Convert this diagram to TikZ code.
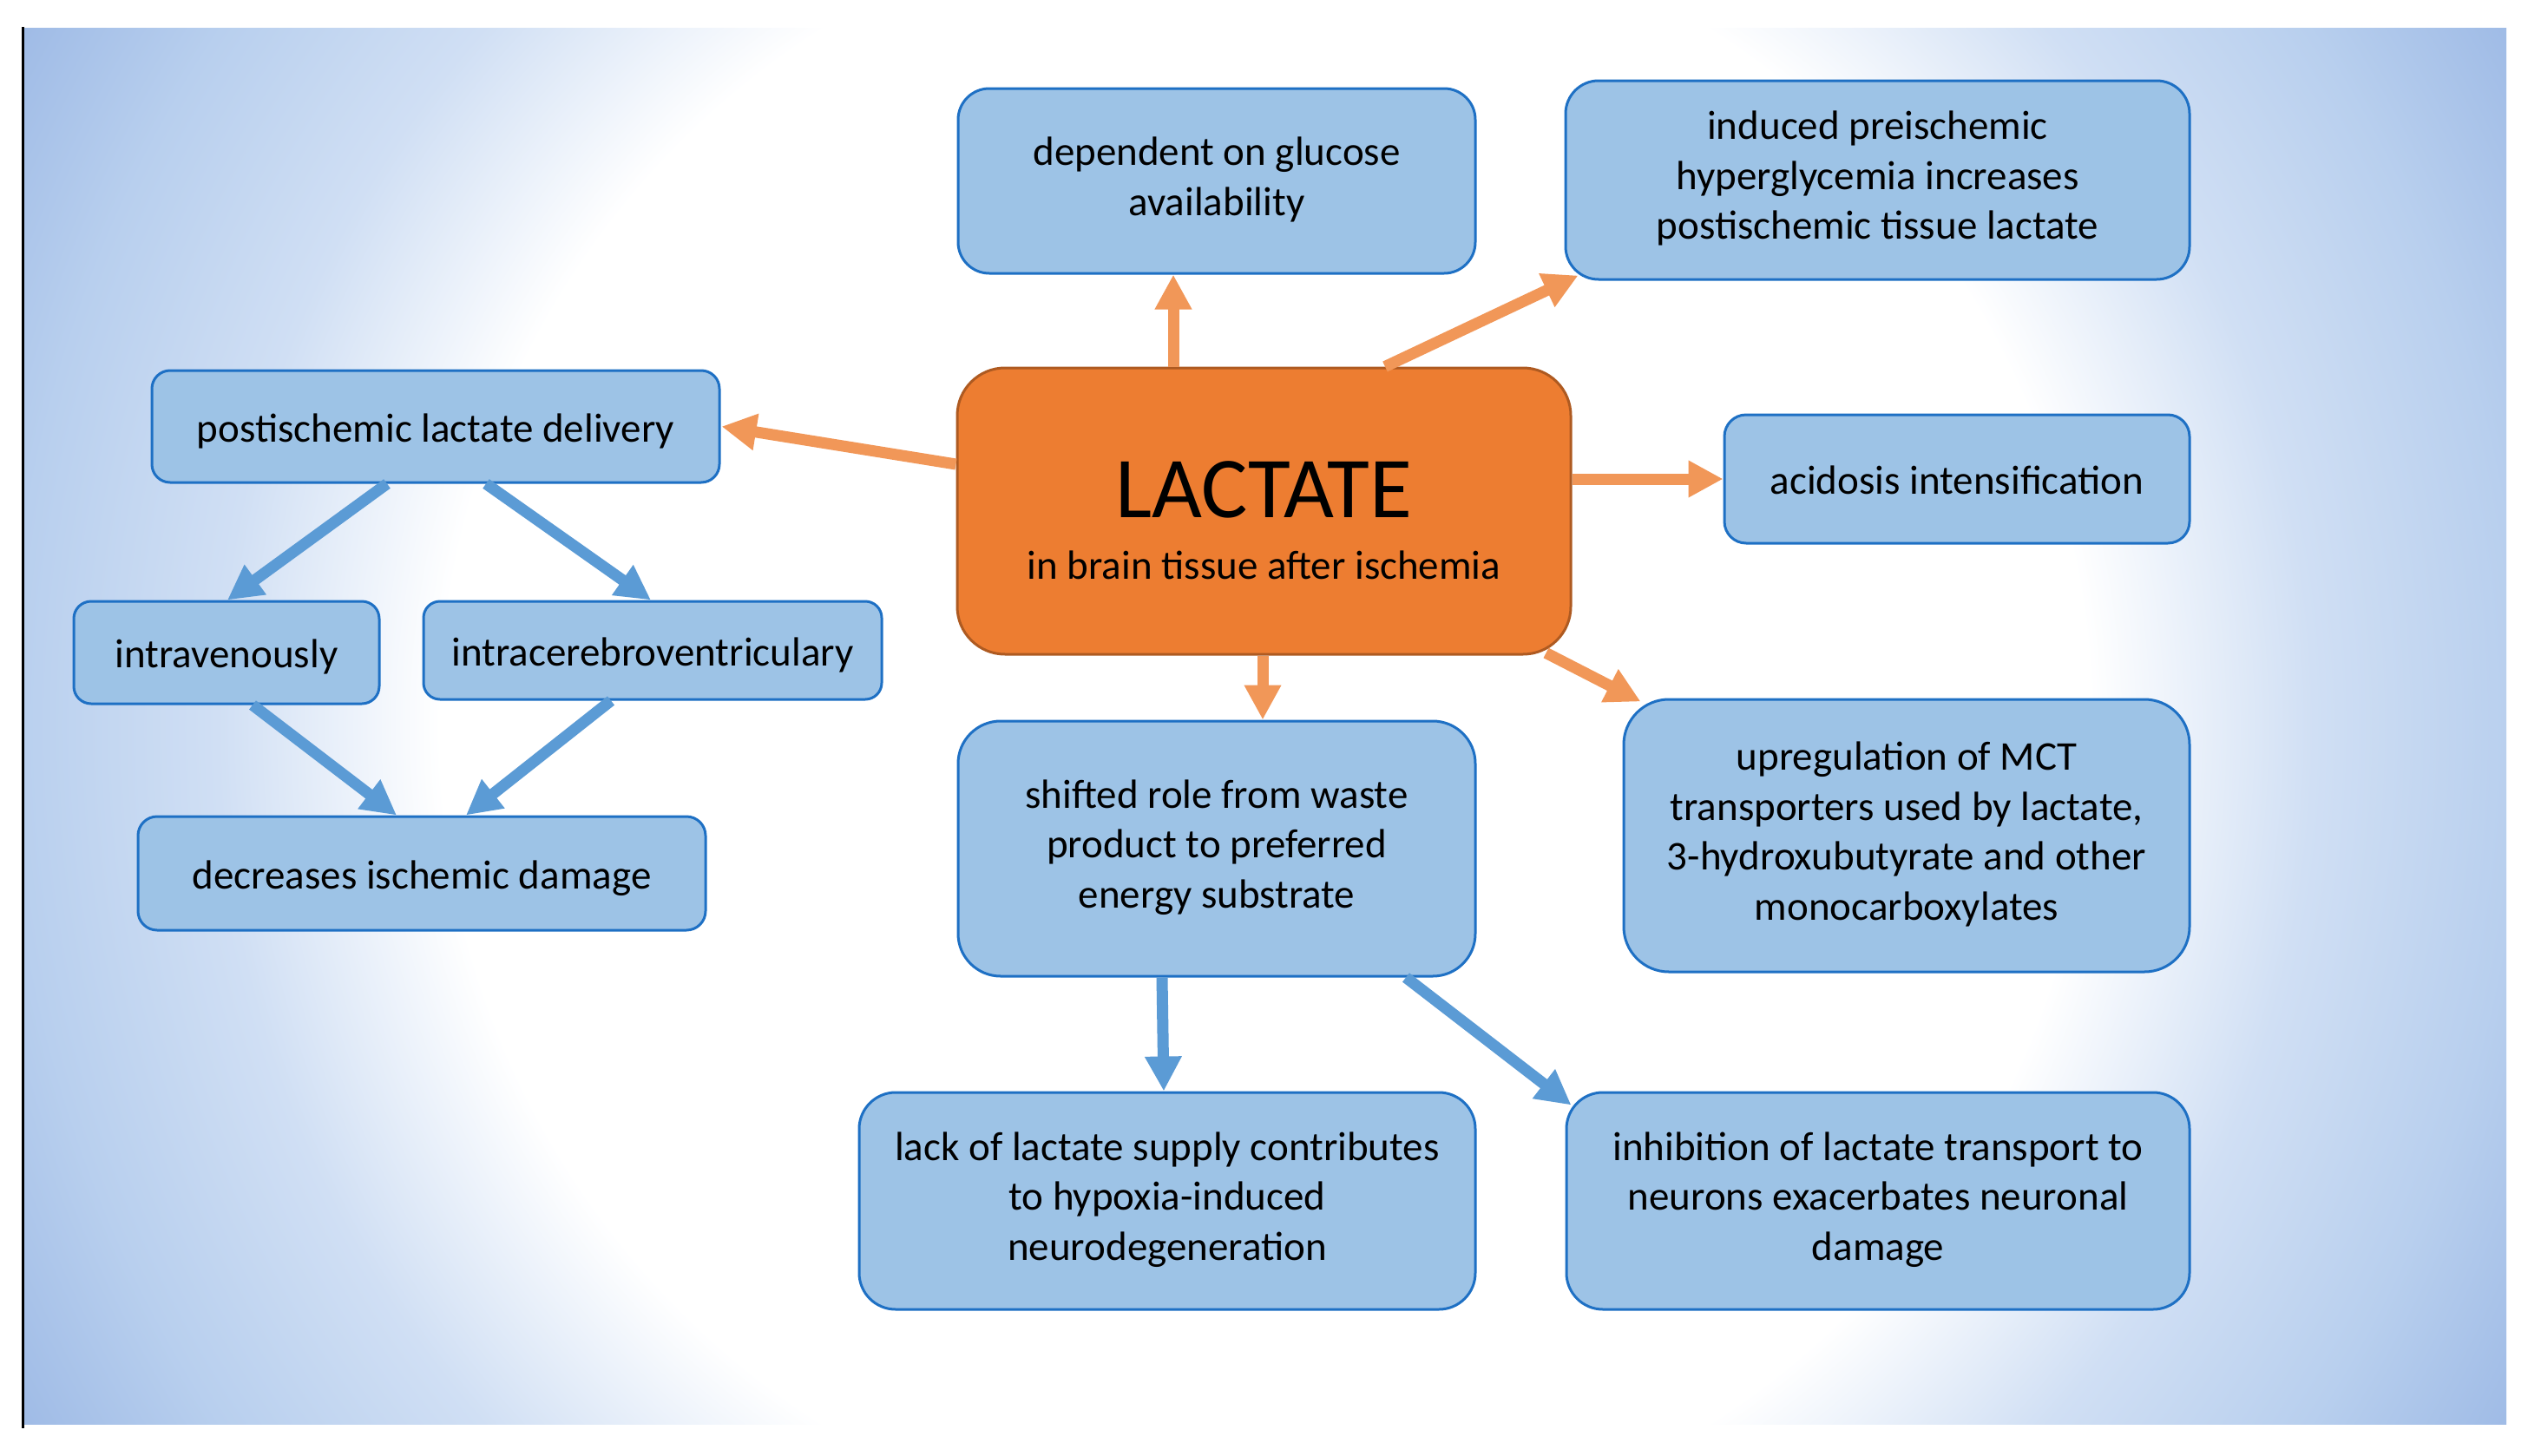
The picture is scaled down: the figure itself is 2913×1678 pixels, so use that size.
\documentclass[tikz,border=0pt]{standalone}
\usepackage{fontspec}
\setmainfont{Carlito}
\usetikzlibrary{arrows.meta}
\definecolor{boxfill}{HTML}{9DC3E6}
\definecolor{boxline}{RGB}{30,112,196}
\definecolor{lacfill}{HTML}{ED7D31}
\definecolor{lacline}{HTML}{AE5A21}
\definecolor{arrorange}{HTML}{F19758}
\definecolor{arrblue}{HTML}{5B9BD5}
\definecolor{bgA}{HTML}{D0DFF4}
\definecolor{bgB}{HTML}{B8CFEE}
\definecolor{bgC}{HTML}{9FBBE6}
\pgfdeclareradialshading{bgshade}{\pgfpoint{0bp}{0bp}}{color(0bp)=(white); color(14.4bp)=(white); color(18.3bp)=(bgA); color(21.9bp)=(bgB); color(24.9bp)=(bgC); color(50bp)=(bgC)}
\newcommand{\topstrut}{\rule{0pt}{46pt}}
\newcommand{\botstrut}{\rule[-11pt]{0pt}{11pt}}
\tikzset{
  box/.style={draw=boxline, fill=boxfill, line width=3pt, align=center, inner sep=0pt,
    font=\fontsize{47}{57.5}\selectfont, execute at begin node=\topstrut, execute at end node=\botstrut},
  lacbox/.style={draw=lacline, fill=lacfill, line width=3pt, align=center, inner sep=0pt,
    font=\fontsize{47}{57}\selectfont},
  oarr/.style={draw=arrorange, line width=13pt, -{Triangle[width=40pt,length=40pt]}},
  barr/.style={draw=arrblue, line width=13pt, -{Triangle[width=40pt,length=40pt]}}
}
\begin{document}
\begin{tikzpicture}[x=1pt,y=-1pt]
\useasboundingbox (0,0) rectangle (2913,1678);
\begin{scope}
  \clip (28,33) rectangle (2888,1641);
  \shade[shading=bgshade] (1458,837) circle [radius=1650pt];
\end{scope}
\draw[line width=3pt] (26.5,31) -- (26.5,1646);

\node[box, minimum width=596pt, minimum height=213pt, rounded corners=36pt] (glu) at (1402,208.5) {dependent on glucose\\availability};
\node[box, minimum width=719pt, minimum height=229pt, rounded corners=38pt] (prei) at (2163.5,207.5) {induced preischemic\\hyperglycemia increases\\postischemic tissue lactate};
\node[box, minimum width=654pt, minimum height=129pt, rounded corners=21pt] (post) at (502,491.5) {postischemic lactate delivery};
\node[lacbox, minimum width=707pt, minimum height=330pt, rounded corners=55pt] (lac) at (1456.5,589) {\rule{0pt}{87pt}{\fontsize{100}{100}\selectfont LACTATE}\\[14pt]in brain tissue after ischemia};
\node[box, minimum width=536pt, minimum height=148pt, rounded corners=25pt] (acid) at (2255,552) {acidosis intensification};
\node[box, minimum width=352pt, minimum height=118pt, rounded corners=20pt] (intrav) at (261,752) {intravenously};
\node[box, minimum width=528pt, minimum height=113pt, rounded corners=19pt] (intrac) at (752,749.5) {intracerebroventriculary};
\node[box, minimum width=654pt, minimum height=131pt, rounded corners=22pt] (dec) at (486,1006.5) {decreases ischemic damage};
\node[box, minimum width=596pt, minimum height=294pt, rounded corners=49pt] (shift) at (1402,978) {shifted role from waste\\product to preferred\\energy substrate};
\node[box, minimum width=652pt, minimum height=314pt, rounded corners=52pt] (up) at (2197,963) {upregulation of MCT\\transporters used by lactate,\\3-hydroxubutyrate and other\\monocarboxylates};
\node[box, minimum width=710pt, minimum height=250pt, rounded corners=42pt] (lack) at (1345,1384) {lack of lactate supply contributes\\to hypoxia-induced\\neurodegeneration};
\node[box, minimum width=718pt, minimum height=250pt, rounded corners=42pt] (inh) at (2164,1384) {inhibition of lactate transport to\\neurons exacerbates neuronal\\damage};

\draw[oarr] ([xshift=-104.5pt]lac.north) -- ([xshift=-50pt]glu.south);
\draw[oarr] ([xshift=139.5pt]lac.north) -- ([xshift=16pt,yshift=6pt]prei.south west);
\draw[oarr] ([yshift=54pt]lac.west) -- ([xshift=1pt]post.east);
\draw[oarr] ([yshift=37pt]lac.east) -- (acid.west);
\draw[oarr] ([xshift=-1.5pt]lac.south) -- ([xshift=53pt]shift.north);
\draw[oarr] ([xshift=-30pt,yshift=3pt]lac.south east) -- ([xshift=21pt,yshift=-4pt]up.north west);

\draw[barr] ([xshift=-56pt]post.south) -- ([xshift=1pt]intrav.north);
\draw[barr] ([xshift=58pt]post.south) -- ([xshift=-2pt]intrac.north);
\draw[barr] ([xshift=30pt]intrav.south) -- ([xshift=-29pt]dec.north);
\draw[barr] ([xshift=-48pt]intrac.south) -- ([xshift=51pt]dec.north);
\draw[barr] ([xshift=-63pt]shift.south) -- ([xshift=-4pt]lack.north);
\draw[barr] ([xshift=218pt]shift.south) -- ([xshift=7pt,yshift=-16pt]inh.north west);
\end{tikzpicture}
\end{document}
